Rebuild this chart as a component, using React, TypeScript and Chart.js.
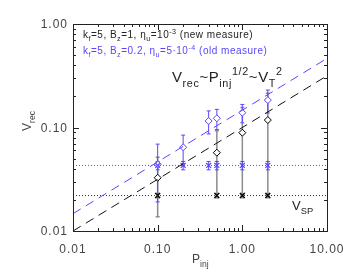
import React, { useEffect, useRef } from 'react';
import { Chart, registerables } from 'chart.js';
Chart.register(...registerables);

// new measure (black)
const newP = [0.1, 0.5, 1.0, 2.0];
const newVrec = [0.0327, 0.0571, 0.0891, 0.118];
const newVrecErr = [0.019, 0.036, 0.067, 0.096];
const newVsp = [0.022, 0.022, 0.022, 0.022];
const newVspErr = [0.001, 0.001, 0.001, 0.001];

// old measure (blue)
const oldP = [0.1, 0.2, 0.4, 0.5, 1.0, 2.0];
const oldVrec = [0.0441, 0.0644, 0.1156, 0.1227, 0.139, 0.184];
const oldVrecErr = [0.025, 0.02, 0.029, 0.027, 0.028, 0.046];
const oldVsp = [0.043, 0.043, 0.043, 0.043, 0.043, 0.043];
const oldVspErr = [0.004, 0.004, 0.004, 0.004, 0.004, 0.004];

// fit lines (endpoints) and V_SP levels
const fitP = [0.01, 10];
const newFit = [0.01, 0.316];
const oldFit = [0.0147, 0.465];
const levelP = [0.01, 10];
const newLevel = [0.022, 0.022];
const oldLevel = [0.043, 0.043];

const xTicks = [0.01, 0.1, 1, 10];
const xTickLabels = ['0.01', '0.10', '1.00', '10.00'];
const yTicks = [0.01, 0.1, 1];
const yTickLabels = ['0.01', '0.10', '1.00'];

const BLUE = 'rgb(88,70,255)';
const GREY = '#8c8c8c';
const FONT = "'Liberation Sans', Arial, sans-serif";

type Seg = { t: string; k?: 'sub' | 'sup' };

function drawRich(ctx: CanvasRenderingContext2D, segs: Seg[], x: number, y: number, size: number, color: string) {
  let cx = x;
  ctx.fillStyle = color;
  ctx.textAlign = 'left';
  ctx.textBaseline = 'alphabetic';
  for (const s of segs) {
    const fs = s.k ? size * 0.72 : size;
    const dy = s.k === 'sub' ? size * 0.32 : s.k === 'sup' ? -size * 0.45 : 0;
    ctx.font = `${fs}px ${FONT}`;
    ctx.fillText(s.t, cx, y + dy);
    cx += ctx.measureText(s.t).width;
  }
}

function zip(xs: number[], ys: number[]) {
  return xs.map((x, i) => ({ x, y: ys[i] }));
}

const overlay = {
  id: 'overlay',
  beforeDatasetsDraw(chart: any) {
    const ctx: CanvasRenderingContext2D = chart.ctx;
    const xs = chart.scales.x;
    const ys = chart.scales.y;
    const errs = (px: number[], vy: number[], ve: number[], color: string, lw: number, cap: number) => {
      ctx.save();
      ctx.strokeStyle = color;
      ctx.lineWidth = lw;
      for (let i = 0; i < px.length; i++) {
        const x = xs.getPixelForValue(px[i]);
        const yt = ys.getPixelForValue(vy[i] + ve[i]);
        const yb = ys.getPixelForValue(Math.max(vy[i] - ve[i], 0.0105));
        ctx.beginPath();
        ctx.moveTo(x, yt);
        ctx.lineTo(x, yb);
        ctx.moveTo(x - cap, yt);
        ctx.lineTo(x + cap, yt);
        ctx.moveTo(x - cap, yb);
        ctx.lineTo(x + cap, yb);
        ctx.stroke();
      }
      ctx.restore();
    };
    errs(newP, newVrec, newVrecErr, GREY, 1.5, 2);
    errs(newP, newVsp, newVspErr, GREY, 1.5, 2);
    errs(oldP, oldVsp, oldVspErr, BLUE, 1, 2);
    errs(oldP, oldVrec, oldVrecErr, BLUE, 1, 2);
  },
  afterDraw(chart: any) {
    const ctx: CanvasRenderingContext2D = chart.ctx;
    const xs = chart.scales.x;
    const ys = chart.scales.y;
    const L = xs.getPixelForValue(0.01);
    const R = xs.getPixelForValue(10);
    const T = ys.getPixelForValue(1);
    const B = ys.getPixelForValue(0.01);
    ctx.save();
    ctx.strokeStyle = '#222';
    ctx.lineWidth = 1;
    ctx.strokeRect(Math.round(L) + 0.5, Math.round(T) + 0.5, Math.round(R - L), Math.round(B - T));
    ctx.beginPath();
    for (let d = -2; d <= 0; d++) {
      for (let k = 1; k <= 9; k++) {
        const v = k * Math.pow(10, d);
        const px = Math.round(xs.getPixelForValue(v)) + 0.5;
        const len = k === 1 ? 6 : 3;
        ctx.moveTo(px, B);
        ctx.lineTo(px, B - len);
        ctx.moveTo(px, T);
        ctx.lineTo(px, T + len);
      }
    }
    for (let d = -2; d <= -1; d++) {
      for (let k = 1; k <= 9; k++) {
        const v = k * Math.pow(10, d);
        const py = Math.round(ys.getPixelForValue(v)) + 0.5;
        const len = k === 1 ? 6 : 3;
        ctx.moveTo(L, py);
        ctx.lineTo(L + len, py);
        ctx.moveTo(R, py);
        ctx.lineTo(R - len, py);
      }
    }
    ctx.stroke();

    // tick labels
    ctx.fillStyle = '#444';
    ctx.font = `12px ${FONT}`;
    (ctx as any).letterSpacing = '1px';
    ctx.textAlign = 'center';
    ctx.textBaseline = 'alphabetic';
    xTicks.forEach((v, i) => {
      ctx.fillText(xTickLabels[i], xs.getPixelForValue(v), B + 22);
    });
    ctx.textAlign = 'right';
    ctx.textBaseline = 'middle';
    yTicks.forEach((v, i) => {
      ctx.fillText(yTickLabels[i], L - 5, ys.getPixelForValue(v) + 1);
    });
    (ctx as any).letterSpacing = '0px';

    // axis titles
    drawRich(ctx, [{ t: 'P' }, { t: 'inj', k: 'sub' }], 192, 263, 12, '#444');
    ctx.save();
    ctx.translate(31, 131);
    ctx.rotate(-Math.PI / 2);
    drawRich(ctx, [{ t: 'V' }, { t: 'rec', k: 'sub' }], 0, 0, 12, '#444');
    ctx.restore();

    // legend lines
    (ctx as any).letterSpacing = '0.5px';
    drawRich(ctx, [
      { t: 'k' }, { t: 'f', k: 'sub' }, { t: '=5, B' }, { t: 'z', k: 'sub' }, { t: '=1, η' }, { t: 'u', k: 'sub' },
      { t: '=10' }, { t: '-3', k: 'sup' }, { t: ' (new measure)' },
    ], 83, 38, 10, '#222');
    drawRich(ctx, [
      { t: 'k' }, { t: 'f', k: 'sub' }, { t: '=5, B' }, { t: 'z', k: 'sub' }, { t: '=0.2, η' }, { t: 'u', k: 'sub' },
      { t: '=5·10' }, { t: '-4', k: 'sup' }, { t: ' (old measure)' },
    ], 83, 54, 10, BLUE);

    // scaling relation
    (ctx as any).letterSpacing = '0.6px';
    drawRich(ctx, [
      { t: 'V' }, { t: 'rec', k: 'sub' }, { t: '~P' }, { t: 'inj', k: 'sub' }, { t: '1/2', k: 'sup' },
      { t: '~V' }, { t: 'T', k: 'sub' }, { t: '2', k: 'sup' },
    ], 172, 82, 15, '#222');
    (ctx as any).letterSpacing = '0px';

    drawRich(ctx, [{ t: 'V' }, { t: 'SP', k: 'sub' }], 292, 210, 13, '#222');
    ctx.restore();
  },
};

export default function App() {
  const ref = useRef<HTMLCanvasElement>(null);
  useEffect(() => {
    document.body.style.margin = '0';
    const canvas = ref.current!;
    const chart = new Chart(canvas, {
      type: 'scatter',
      data: {
        datasets: [
          {
            type: 'line', data: zip(fitP, newFit), borderColor: '#111', borderWidth: 1,
            borderDash: [9, 6], pointRadius: 0, fill: false,
          },
          {
            type: 'line', data: zip(fitP, oldFit), borderColor: BLUE, borderWidth: 1,
            borderDash: [9, 6], pointRadius: 0, fill: false,
          },
          {
            type: 'line', data: zip(levelP, newLevel), borderColor: '#333', borderWidth: 1,
            borderDash: [1, 2], pointRadius: 0, fill: false,
          },
          {
            type: 'line', data: zip(levelP, oldLevel), borderColor: BLUE, borderWidth: 1,
            borderDash: [1, 2], pointRadius: 0, fill: false,
          },
          {
            data: zip(newP, newVsp), pointStyle: 'crossRot', pointRadius: 3.5, borderColor: '#000',
            borderWidth: 1.3, backgroundColor: '#000',
          },
          {
            data: zip(oldP, oldVsp), pointStyle: 'crossRot', pointRadius: 3.5, borderColor: BLUE,
            borderWidth: 1.2, backgroundColor: BLUE,
          },
          {
            data: zip(newP, newVrec), pointStyle: 'rectRot', pointRadius: 3.5, borderColor: '#000',
            borderWidth: 1, backgroundColor: '#fff',
          },
          {
            data: zip(oldP, oldVrec), pointStyle: 'rectRot', pointRadius: 3.5, borderColor: BLUE,
            borderWidth: 1, backgroundColor: '#fff',
          },
        ],
      } as any,
      options: {
        responsive: false,
        animation: false,
        layout: { padding: { left: 73, top: 24, right: 22, bottom: 48 } },
        plugins: { legend: { display: false }, tooltip: { enabled: false } },
        scales: {
          x: { type: 'logarithmic', min: 0.01, max: 10, display: false },
          y: { type: 'logarithmic', min: 0.01, max: 1, display: false },
        },
      } as any,
      plugins: [overlay],
    });
    return () => chart.destroy();
  }, []);
  return (
    <div style={{ position: 'absolute', left: 0, top: 0, width: 349, height: 279, background: '#fff' }}>
      <canvas ref={ref} width={349} height={279} />
    </div>
  );
}
